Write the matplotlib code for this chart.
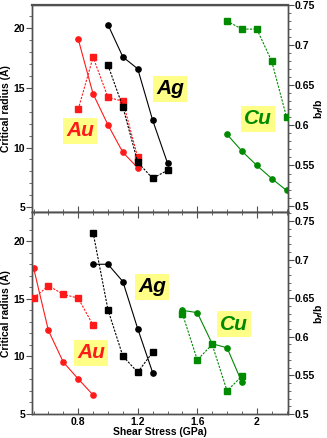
import matplotlib
matplotlib.use("Agg")
import matplotlib.pyplot as plt
from matplotlib.ticker import MultipleLocator, FormatStrFormatter

plt.rcParams['font.family'] = ['Liberation Sans', 'DejaVu Sans']
plt.rcParams['font.weight'] = 'bold'

# ---- data (top panel) ----
au_x_top = [0.8, 0.9, 1.0, 1.1, 1.2]
au_r_top = [19.1, 14.5, 11.9, 9.6, 8.3]
au_b_top = [0.620, 0.685, 0.635, 0.630, 0.560]

ag_x_top = [1.0, 1.1, 1.2, 1.3, 1.4]
ag_r_top = [20.3, 17.6, 16.6, 12.3, 8.7]
ag_b_top = [0.675, 0.623, 0.554, 0.534, 0.544]

cu_x_top = [1.8, 1.9, 2.0, 2.1, 2.2]
cu_r_top = [11.1, 9.7, 8.5, 7.4, 6.4]
cu_b_top = [0.730, 0.720, 0.720, 0.680, 0.610]

# ---- data (bottom panel) ----
au_x_bot = [0.5, 0.6, 0.7, 0.8, 0.9]
au_r_bot = [17.7, 12.25, 9.5, 8.05, 6.65]
au_b_bot = [0.650, 0.666, 0.655, 0.650, 0.615]

ag_x_bot = [0.9, 1.0, 1.1, 1.2, 1.3]
ag_r_bot = [18.0, 18.0, 16.5, 12.4, 8.6]
ag_b_bot = [0.735, 0.635, 0.575, 0.554, 0.580]

cu_x_bot = [1.5, 1.6, 1.7, 1.8, 1.9]
cu_r_bot = [14.0, 13.8, 11.1, 10.75, 7.75]
cu_b_bot = [0.630, 0.570, 0.590, 0.530, 0.549]

red = '#ff1a1a'
green = '#008a00'
spc = '#505050'

fig = plt.figure(figsize=(3.27, 4.38), dpi=100)
ax1 = fig.add_axes([0.098, 0.515, 0.783, 0.4735])
ax2 = fig.add_axes([0.098, 0.0548, 0.783, 0.4602])
ax1r = ax1.twinx()
ax2r = ax2.twinx()

def draw(ax, axr, x, r, b, col):
    ax.plot(x, r, '-o', color=col, lw=0.8, ms=3.8, zorder=3)
    axr.plot(x, b, 's', color=col, ls=(0, (2, 1.2)), lw=0.8, ms=4.2, zorder=3)

draw(ax1, ax1r, au_x_top, au_r_top, au_b_top, red)
draw(ax1, ax1r, ag_x_top, ag_r_top, ag_b_top, 'black')
draw(ax1, ax1r, cu_x_top, cu_r_top, cu_b_top, green)
draw(ax2, ax2r, au_x_bot, au_r_bot, au_b_bot, red)
draw(ax2, ax2r, ag_x_bot, ag_r_bot, ag_b_bot, 'black')
draw(ax2, ax2r, cu_x_bot, cu_r_bot, cu_b_bot, green)

ax1.set_ylim(4.56, 21.95)
ax1r.set_ylim(0.4915, 0.75)
ax2.set_ylim(5, 22.5)
ax2r.set_ylim(0.5, 0.761)

for ax in [ax1, ax2]:
    ax.set_xlim(0.49, 2.21)
    ax.xaxis.set_major_locator(MultipleLocator(0.4))
    ax.xaxis.set_minor_locator(MultipleLocator(0.1))
    ax.xaxis.set_major_formatter(FormatStrFormatter('%g'))
    ax.yaxis.set_major_locator(MultipleLocator(5))
    ax.yaxis.set_minor_locator(MultipleLocator(1))
    ax.set_ylabel('Critical radius (Å)', fontsize=7.5, fontweight='bold', labelpad=2)
    ax.tick_params(axis='y', which='both', direction='out', colors=spc, labelcolor='black',
                   labelsize=7.5, pad=1)
    ax.tick_params(axis='y', which='major', length=4)
    ax.tick_params(axis='y', which='minor', length=2.5)
    ax.tick_params(axis='x', which='both', direction='in', colors=spc, labelcolor='black',
                   labelsize=7.5, pad=2)
    ax.tick_params(axis='x', which='major', length=4)
    ax.tick_params(axis='x', which='minor', length=2.5)

for axr in [ax1r, ax2r]:
    axr.yaxis.set_major_locator(MultipleLocator(0.05))
    axr.yaxis.set_minor_locator(MultipleLocator(0.01))
    axr.yaxis.set_major_formatter(FormatStrFormatter('%g'))
    axr.set_ylabel('b$_f$/b', fontsize=7.5, fontweight='bold', va='center')
    axr.yaxis.set_label_coords(1.12, 0.5)
    axr.tick_params(axis='y', which='both', direction='out', colors=spc, labelcolor='black',
                    labelsize=7.5, pad=1)
    axr.tick_params(axis='y', which='major', length=4)
    axr.tick_params(axis='y', which='minor', length=2.5)

for a in [ax1, ax2, ax1r, ax2r]:
    for s in a.spines.values():
        s.set_color(spc)
        s.set_linewidth(1.0)
ax1.spines['top'].set_linewidth(1.6)

ax1.tick_params(axis='x', labelbottom=False)
ax2.tick_params(axis='x', which='both', top=True)
ax2.set_xlabel('Shear Stress (GPa)', fontsize=7.5, fontweight='bold', labelpad=0)

box = dict(boxstyle='square,pad=0.15', fc='#ffff88', ec='none')
def tag(ax, x, y, s, col):
    ax.text(x, y, s, color=col, fontsize=15, fontweight='bold', fontstyle='italic',
            ha='center', va='center', bbox=box, transform=fig.transFigure, zorder=5)

tag(ax1, 80 / 327, 1 - 131 / 438, 'Au', red)
tag(ax1, 170 / 327, 1 - 89 / 438, 'Ag', 'black')
tag(ax1, 258 / 327, 1 - 119 / 438, 'Cu', green)
tag(ax2, 91 / 327, 1 - 353 / 438, 'Au', red)
tag(ax2, 152 / 327, 1 - 287 / 438, 'Ag', 'black')
tag(ax2, 234 / 327, 1 - 324 / 438, 'Cu', green)

fig.savefig('out.png', dpi=100)
